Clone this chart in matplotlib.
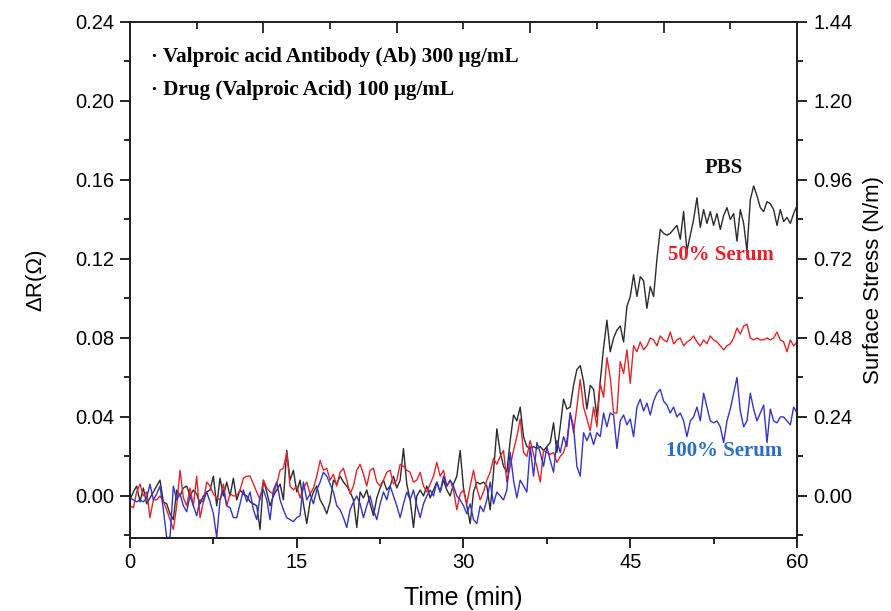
import numpy as np
import matplotlib
matplotlib.use("Agg")
import matplotlib.pyplot as plt
from matplotlib.ticker import MultipleLocator, FormatStrFormatter

plt.rcParams['font.family'] = ['Liberation Sans', 'DejaVu Sans']

pbs_mohm = [
    -2, 2, 5, -3, 4, -4, -1, 2, 5, 8,
    -3, -4, -9, -12, 3, 0, 4, 5, 0, 3,
    1, -4, 0, 2, 3, 10, -5, 9, 0, 7,
    0, 9, -2, 3, 1, 0, -3, -4, -5, -17,
    8, 2, -5, 0, 3, 6, -2, 23, 8, 13,
    2, 8, -4, -14, -3, 2, 5, -2, -5, -9,
    -3, 8, 6, 10, 7, 5, 2, -2, -16, 2,
    -1, 3, -4, -10, -1, 4, 8, 3, 5, 10,
    4, 8, 24, 6, -2, -16, 0, 3, 0, 5,
    -1, 3, 7, 2, 8, 3, 0, 6, 10, 23,
    4, -5, -14, 2, 7, 6, 7, 5, -7, 12,
    34, 22, 15, 12, 28, 41, 38, 45, 30, 25,
    24, 25, 24, 25, 23, 25, 27, 37, 22, 35,
    49, 44, 45, 56, 64, 66, 58, 44, 56, 54,
    40, 58, 75, 89, 73, 80, 84, 86, 78, 96,
    101, 112, 101, 111, 109, 95, 106, 101, 120, 135,
    133, 132, 133, 135, 137, 130, 144, 124, 132, 140,
    151, 136, 145, 138, 144, 137, 143, 135, 142, 146,
    140, 143, 129, 145, 138, 124, 150, 157, 152, 146,
    144, 149, 148, 145, 137, 145, 139, 141, 138, 143,
    147,
]

serum50_mohm = [
    -5, -6, 2, 6, 0, 2, -11, -2, -2, 0,
    -3, -7, -12, -17, -5, 13, -1, -5, 4, -5,
    10, -11, -3, 7, 5, 1, -1, -2, 6, -5,
    1, 0, 0, 3, 9, 10, 10, 6, 2, -2,
    8, 4, 2, 1, 6, 13, 14, 22, 5, 3,
    5, -1, 4, 7, 1, 4, 10, 18, 13, 14,
    8, 11, 5, 12, 14, 8, 1, 5, 13, 16,
    11, 5, 13, 14, 7, 5, 8, 12, 13, 6,
    8, 16, 15, 13, 12, 7, 8, 12, 5, 2,
    6, 10, 17, 10, 13, 5, 8, 3, -7, 1,
    3, -4, 5, 13, 4, -2, 2, 8, 12, 19,
    16, 20, 23, 7, 15, 23, 30, 39, 22, 20,
    28, 21, 15, 7, 23, 22, 21, 22, 17, 20,
    22, 28, 42, 32, 45, 59, 45, 39, 33, 45,
    35, 57, 50, 70, 60, 42, 42, 68, 62, 74,
    57, 76, 73, 78, 74, 76, 80, 79, 76, 81,
    79, 78, 83, 77, 79, 80, 76, 78, 79, 81,
    78, 76, 79, 77, 81, 79, 78, 76, 74, 76,
    77, 80, 85, 82, 86, 87, 80, 79, 80, 79,
    79, 80, 79, 80, 83, 79, 78, 73, 79, 76,
    78,
]

serum100_mohm = [
    -1, -2, -3, -2, -3, -1, 6, -2, 1, 5,
    -7, -21, -21, 5, -2, 1, -5, -8, 0, -5,
    -10, -2, -3, 2, -3, -9, -21, -2, 3, -5,
    -6, -11, -11, -4, 3, -3, 2, -7, -12, 0,
    3, -2, -12, 3, 7, -2, -7, -11, -12, -13,
    -11, -10, 7, -2, 1, -4, 3, 7, 12, 10,
    6, 2, -5, -7, -11, -16, -7, -3, 0, -4,
    -11, -5, 0, -7, -12, -4, 2, -2, 5, 0,
    -5, -11, -4, 2, -2, 3, -5, -11, -4, 0,
    3, 0, 7, 2, 10, 5, 8, 5, 0, -2,
    -5, -9, -4, -12, -14, -5, -8, -2, 7, -4,
    2, 0, -2, 3, 22, 8, -1, 8, 5, 2,
    25, 10, 27, 22, 15, 25, 18, 12, 28, 22,
    30, 25, 42, 35, 15, 10, 32, 28, 32, 26,
    32, 30, 42, 35, 42, 41, 24, 38, 41, 36,
    39, 30, 45, 49, 43, 47, 41, 48, 52, 54,
    48, 46, 42, 45, 40, 42, 38, 30, 38, 40,
    45, 38, 52, 45, 38, 37, 38, 35, 27, 38,
    44, 52, 60, 43, 35, 38, 52, 44, 38, 42,
    46, 27, 44, 38, 37, 40, 40, 38, 36, 45,
    42,
]

t_start, t_end = 0, 60
time_min = np.linspace(t_start, t_end, len(pbs_mohm))

series_labels = ["PBS", "50% Serum", "100% Serum"]
line_colors = ["#2b2b2b", "#e0262b", "#3434c8"]
label_colors = ["#111111", "#e8202a", "#2a6fc2"]
label_pos = [(53.4, 0.166), (53.2, 0.122), (53.4, 0.0225)]

top_major = [12, 24, 36, 48]
top_minor = [6, 18, 30, 42, 54]

stress_per_ohm = 6.0   # right axis = 6 x left axis
y_lo, y_hi = -0.0213, 0.24

fig = plt.figure(figsize=(8.91, 6.11), dpi=100)
ax = fig.add_axes([0.1459, 0.1195, 0.7486, 0.8445])

for vals, c in zip([pbs_mohm, serum50_mohm, serum100_mohm], line_colors):
    ax.plot(time_min, np.array(vals) / 1000.0, color=c, lw=1.0)

ax.set_xlim(t_start, t_end)
ax.set_ylim(y_lo, y_hi)
ax.xaxis.set_major_locator(MultipleLocator(15))
ax.xaxis.set_minor_locator(MultipleLocator(7.5))
ax.yaxis.set_major_locator(MultipleLocator(0.04))
ax.yaxis.set_minor_locator(MultipleLocator(0.02))
ax.yaxis.set_major_formatter(FormatStrFormatter('%.2f'))
ax.tick_params(which='major', direction='out', length=7, width=1.2, labelsize=14.5, pad=4)
ax.tick_params(which='minor', direction='out', length=4, width=1.2)

for s in ax.spines.values():
    s.set_linewidth(1.4)
    s.set_color('#222222')

ax.set_xlabel("Time (min)", fontsize=18, labelpad=10)
ax.set_ylabel("ΔR(Ω)", fontsize=16, labelpad=21)

# right axis: surface stress
ax2 = ax.twinx()
ax2.set_ylim(y_lo * stress_per_ohm, y_hi * stress_per_ohm)
ax2.yaxis.set_major_locator(MultipleLocator(0.24))
ax2.yaxis.set_minor_locator(MultipleLocator(0.12))
ax2.yaxis.set_major_formatter(FormatStrFormatter('%.2f'))
ax2.tick_params(which='major', direction='out', length=7, width=1.2, labelsize=14.5, pad=5)
ax2.tick_params(which='minor', direction='out', length=4, width=1.2)
ax2.set_ylabel("Surface Stress (N/m)", fontsize=16, labelpad=7)
for s in ax2.spines.values():
    s.set_linewidth(1.4)
    s.set_color('#222222')

# top edge: inward ticks without labels
ax3 = ax.twiny()
ax3.set_xlim(t_start, t_end)
ax3.set_xticks(top_major)
ax3.set_xticks(top_minor, minor=True)
ax3.tick_params(axis='x', which='both', top=True, labeltop=False, direction='in',
                width=1.3, color='#222222')
ax3.tick_params(axis='x', which='major', length=8)
ax3.tick_params(axis='x', which='minor', length=5)
for s in ax3.spines.values():
    s.set_linewidth(1.4)
    s.set_color('#222222')

serif = ['Liberation Serif', 'DejaVu Serif']
ax.text(0.032, 0.932, "· Valproic acid Antibody (Ab) 300 μg/mL", transform=ax.transAxes,
        family=serif, fontweight='bold', fontsize=15.2, va='center', ha='left')
ax.text(0.032, 0.868, "· Drug (Valproic Acid) 100 μg/mL", transform=ax.transAxes,
        family=serif, fontweight='bold', fontsize=15.2, va='center', ha='left')

for lab, c, (tx, ty) in zip(series_labels, label_colors, label_pos):
    ax.text(tx, ty, lab, color=c, family=serif, fontweight='bold', fontsize=15,
            ha='center', va='center')

fig.savefig("out.png", dpi=100)
